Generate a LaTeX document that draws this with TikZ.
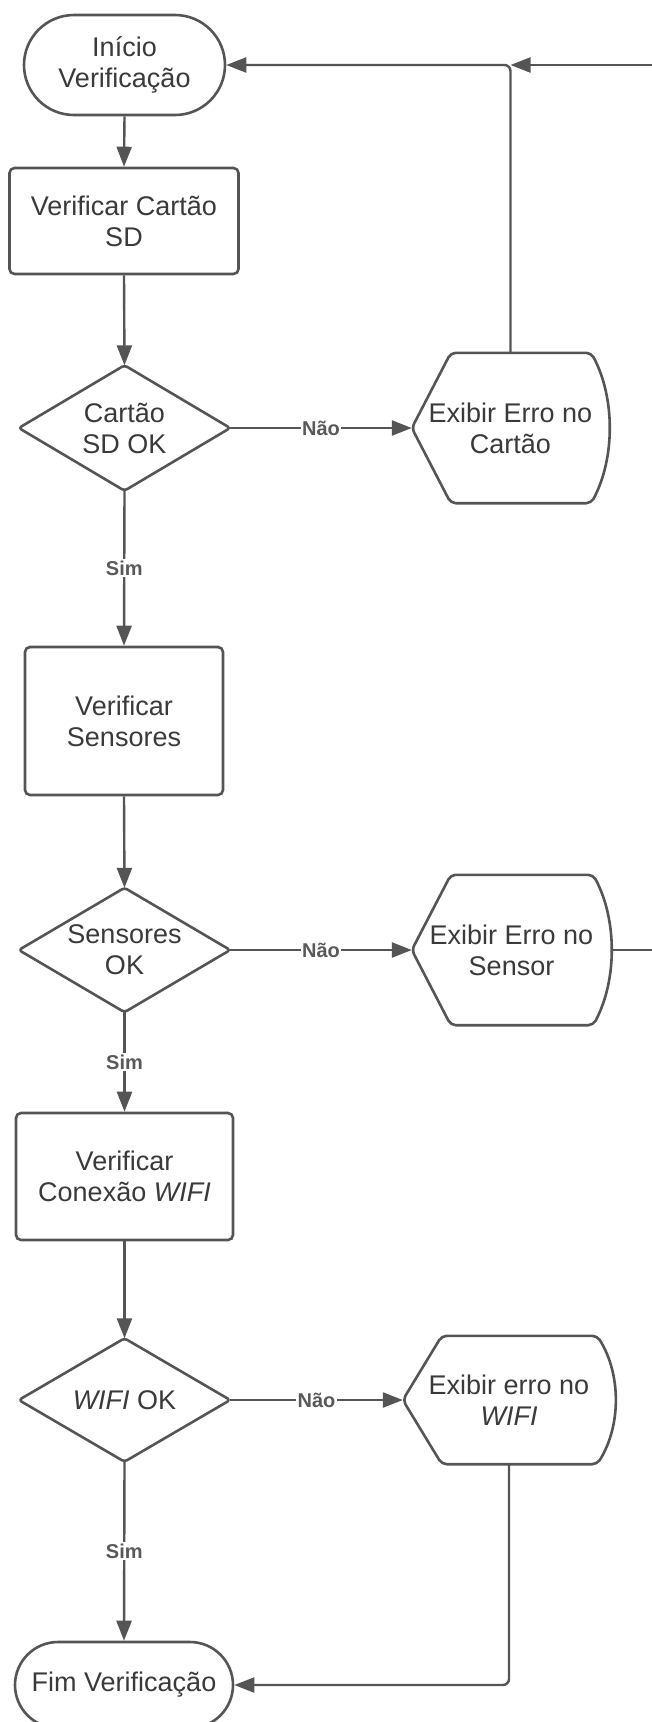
\documentclass[tikz,border=0pt]{standalone}
\usepackage{fontspec}
\setmainfont{Liberation Sans}
\usetikzlibrary{arrows.meta,calc}
\definecolor{edgegray}{HTML}{555555}
\definecolor{inkgray}{HTML}{3A3A3A}
\definecolor{labelgray}{HTML}{595959}

\begin{document}
\begin{tikzpicture}[x=1pt,y=-1pt,
  base/.style={inner sep=0pt, text=inkgray, align=center, font=\fontsize{27}{31}\selectfont},
  terminal/.style={base, draw=edgegray, line width=2.6pt, rounded corners=#1},
  process/.style={base, draw=edgegray, line width=2.6pt, rounded corners=5pt},
  decision/.style={base},
  display/.style={base},
  outline/.style={draw=edgegray, line width=2.6pt, line join=round},
  conn/.style={draw=edgegray, line width=2.4pt, -{Triangle[length=20pt,width=15pt]}},
  plain/.style={draw=edgegray, line width=2.4pt},
  lbl/.style={fill=white, inner sep=1.5pt, text=labelgray, font=\fontsize{20}{22}\selectfont\bfseries},
]
\fill[white] (0,0) rectangle (652,1722);
\useasboundingbox (0,0) rectangle (652,1722);

% main column and error displays
\node[terminal=50pt, minimum width=201pt, minimum height=100pt] (start) at (124.5,65) {Início\\Verificação};
\node[process, minimum width=229pt, minimum height=106pt] (sd) at (124,221) {Verificar Cartão\\SD};
\node[decision, minimum width=211pt, minimum height=125pt] (dsd) at (124.5,428) {Cartão\\SD OK};
\node[display, minimum width=197pt, minimum height=150pt] (esd) at (510.5,428) {Exibir Erro no\\Cartão};
\node[process, minimum width=198pt, minimum height=148pt] (sens) at (124,721) {Verificar\\Sensores};
\node[decision, minimum width=211pt, minimum height=124pt] (dsens) at (124.5,950) {Sensores\\OK};
\node[display, minimum width=199pt, minimum height=150pt] (esens) at (511.5,950) {Exibir Erro no\\Sensor};
\node[process, minimum width=217pt, minimum height=127pt] (wifi) at (124.5,1176.5) {Verificar\\Conexão \textit{WIFI}};
\node[decision, minimum width=211pt, minimum height=123pt] (dwifi) at (124.5,1400) {\textit{WIFI} OK};
\node[display, minimum width=212pt, minimum height=128pt] (ewifi) at (509,1400) {Exibir erro no\\\textit{WIFI}};
\node[terminal=43pt, minimum width=218pt, minimum height=86pt] (fim) at (124,1685) {Fim Verificação};

% decision diamonds
\foreach \n in {dsd,dsens,dwifi}
  \draw[outline, rounded corners=3pt] (\n.north) -- (\n.east) -- (\n.south) -- (\n.west) -- cycle;

% display shapes: pointed left side, bulging right side
\foreach \n in {esd,esens,ewifi}
  \draw[outline, rounded corners=5pt] (\n.west) -- ($(\n.north west)+(39,0)$) -- ($(\n.north east)+(-18,0)$)
     .. controls ($(\n.north east)!0.3!(\n.south east)+(6,0)$) and ($(\n.north east)!0.7!(\n.south east)+(6,0)$) .. ($(\n.south east)+(-18,0)$)
     -- ($(\n.south west)+(39,0)$) -- cycle;

% flow connectors
\draw[conn] (start.south) -- (sd.north);
\draw[conn] (sd.south) -- (dsd.north);
\draw[conn] (dsd.east) -- node[lbl]{Não} (esd.west);
\draw[conn] (dsd.south) -- node[lbl]{Sim} (sens.north);
\draw[conn] (sens.south) -- (dsens.north);
\draw[conn] (dsens.east) -- node[lbl]{Não} (esens.west);
\draw[conn] (dsens.south) -- node[lbl]{Sim} (wifi.north);
\draw[conn] (wifi.south) -- (dwifi.north);
\draw[conn] (dwifi.east) -- node[lbl]{Não} (ewifi.west);
\draw[conn] (dwifi.south) -- node[lbl]{Sim} (fim.north);

% return paths
\draw[conn, rounded corners=6pt] (esd.north) |- (start.east);
\coordinate (loopin) at (652,65);
\coordinate (loopjoin) at (esd.north |- start.east);
\draw[conn] (loopin) -- (loopjoin);
\coordinate (loopout) at (652,950);
\draw[plain] (esens.east) -- (loopout);
\draw[conn, rounded corners=6pt] (ewifi.south) |- (fim.east);
\end{tikzpicture}
\end{document}
